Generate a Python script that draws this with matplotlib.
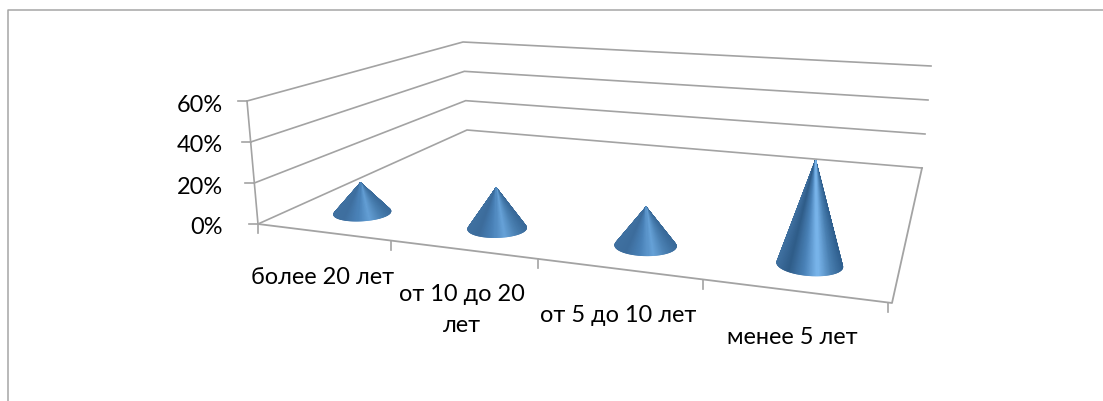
"""3D cone chart drawn on a flat pixel axes, with a small floor projection."""
import numpy as np
import matplotlib
matplotlib.use("Agg")
import matplotlib.pyplot as plt
from matplotlib.collections import PolyCollection
from matplotlib.colors import LinearSegmentedColormap

categories = ["более 20 лет", "от 10 до 20\nлет", "от 5 до 10 лет", "менее 5 лет"]
values = [14, 19, 18, 49]
y_ticks = [0, 20, 40, 60]
y_tick_labels = ["0%", "20%", "40%", "60%"]

plt.rcParams["font.family"] = ["Lato", "Noto Sans", "DejaVu Sans"]
GRID = "#a3a3a3"
W, H = 1103, 401

# floor corners in pixels: front-left, front-right, back-right, back-left
FLOOR = [(258, 224), (892, 303), (922, 168), (467, 130)]
TOP_LEFT = (247, 101)
TOP_BACK = (463, 42)
TOP_RIGHT = (931, 66)
PX_PER_PCT = 2.12
CONE_DEPTH = 0.15
R_U, R_V = 0.047, 0.062
FONT_SIZE = 16.9

LABEL_POS = [(323, 277), (462, 310), (618, 316), (792, 337)]


def floor_matrix():
    src = [(0, 0), (1, 0), (1, 1), (0, 1)]
    rows, rhs = [], []
    for (u, v), (x, y) in zip(src, FLOOR):
        rows.append([u, v, 1, 0, 0, 0, -u * x, -v * x])
        rows.append([0, 0, 0, u, v, 1, -u * y, -v * y])
        rhs += [x, y]
    return np.append(np.linalg.solve(np.array(rows, float), np.array(rhs, float)), 1).reshape(3, 3)


MAT = floor_matrix()


def project(u, v):
    u, v = np.asarray(u, float), np.asarray(v, float)
    d = MAT[2, 0] * u + MAT[2, 1] * v + MAT[2, 2]
    return (
        (MAT[0, 0] * u + MAT[0, 1] * v + MAT[0, 2]) / d,
        (MAT[1, 0] * u + MAT[1, 1] * v + MAT[1, 2]) / d,
    )


def lean(x):
    # vertical lines in the picture fan out to the top
    return -0.09 + (x - 258) / (922 - 258) * (0.088 + 0.09)


def mix(a, b, t):
    return tuple(np.array(matplotlib.colors.to_rgb(a)) * (1 - t) + np.array(matplotlib.colors.to_rgb(b)) * t)


def draw_cone(ax, u, v, value):
    cx, cy = project(u, v)
    height = value * PX_PER_PCT
    ax_x = cx + lean(cx) * height
    ax_y = cy - height
    # bigger cones show a stronger highlight
    strength = min(1.0, height / 100)
    cmap = LinearSegmentedColormap.from_list(
        "cone",
        [
            (0.0, "#3f70a0"),
            (0.18, mix("#4476a8", "#2f5c88", strength)),
            (0.42, "#4a82b8"),
            (0.62, mix("#5a95cb", "#7ab6ec", strength)),
            (0.82, "#4a80b2"),
            (1.0, mix("#3f70a0", "#2f5f8e", strength)),
        ],
    )
    t = np.linspace(0, 2 * np.pi, 181)
    bx, by = project(u + R_U * np.cos(t), v + R_V * np.sin(t))
    x0, x1 = bx.min(), bx.max()
    polys, colors, keys = [], [], []
    for i in range(len(t) - 1):
        polys.append([(ax_x, ax_y), (bx[i], by[i]), (bx[i + 1], by[i + 1])])
        colors.append(cmap(((bx[i] + bx[i + 1]) / 2 - x0) / (x1 - x0)))
        keys.append(by[i] + by[i + 1])
    order = np.argsort(keys)
    ax.add_collection(
        PolyCollection(
            [polys[i] for i in order],
            facecolors=[colors[i] for i in order],
            edgecolors=[colors[i] for i in order],
            linewidths=0.8,
            zorder=3,
        )
    )


def main():
    fig = plt.figure(figsize=(W / 100, H / 100), dpi=100)
    ax = fig.add_axes([0, 0, 1, 1])
    ax.set_xlim(0, W)
    ax.set_ylim(H, 0)
    ax.axis("off")

    # chart frame, cut off by the image on the right and bottom
    ax.plot([8, 8, W], [H, 10, 10], color="#a6a6a6", lw=1.1, solid_capstyle="butt")

    front_left, front_right, back_right, back_left = FLOOR
    top_val = y_ticks[-1]
    for val, lab in zip(y_ticks, y_tick_labels):
        f = val / top_val
        lx = front_left[0] + (TOP_LEFT[0] - front_left[0]) * f
        ly = front_left[1] + (TOP_LEFT[1] - front_left[1]) * f
        bx = back_left[0] + (TOP_BACK[0] - back_left[0]) * f
        by = back_left[1] + (TOP_BACK[1] - back_left[1]) * f
        rx = back_right[0] + (TOP_RIGHT[0] - back_right[0]) * f
        ry = back_right[1] + (TOP_RIGHT[1] - back_right[1]) * f
        ax.plot([lx, bx, rx], [ly, by, ry], color=GRID, lw=1.2, zorder=1)
        ax.plot([lx - 9, lx], [ly, ly], color=GRID, lw=1.2, zorder=1)
        ax.text(223, ly + 4, lab, ha="right", va="center", fontsize=FONT_SIZE, color="black")

    ax.plot(
        [TOP_LEFT[0], front_left[0]], [TOP_LEFT[1], front_left[1]], color=GRID, lw=1.2, zorder=1
    )

    # floor outline and the category ticks on the front edge
    ax.plot(
        [front_left[0], front_right[0], back_right[0]],
        [front_left[1], front_right[1], back_right[1]],
        color=GRID,
        lw=1.3,
        zorder=1,
    )
    n = len(categories)
    for i in range(n + 1):
        tx, ty = project(i / n, 0)
        tx -= 4 * min(1, i / 2)
        ax.plot([tx, tx], [ty, ty + 9], color=GRID, lw=1.2, zorder=1)

    for i, (val, lab) in enumerate(zip(values, categories)):
        draw_cone(ax, (i + 0.5) / n, CONE_DEPTH, val)
        ax.text(
            LABEL_POS[i][0],
            LABEL_POS[i][1],
            lab,
            ha="center",
            va="center",
            fontsize=FONT_SIZE,
            color="black",
            linespacing=1.55,
        )

    fig.savefig("out.png", dpi=100)


if __name__ == "__main__":
    main()
